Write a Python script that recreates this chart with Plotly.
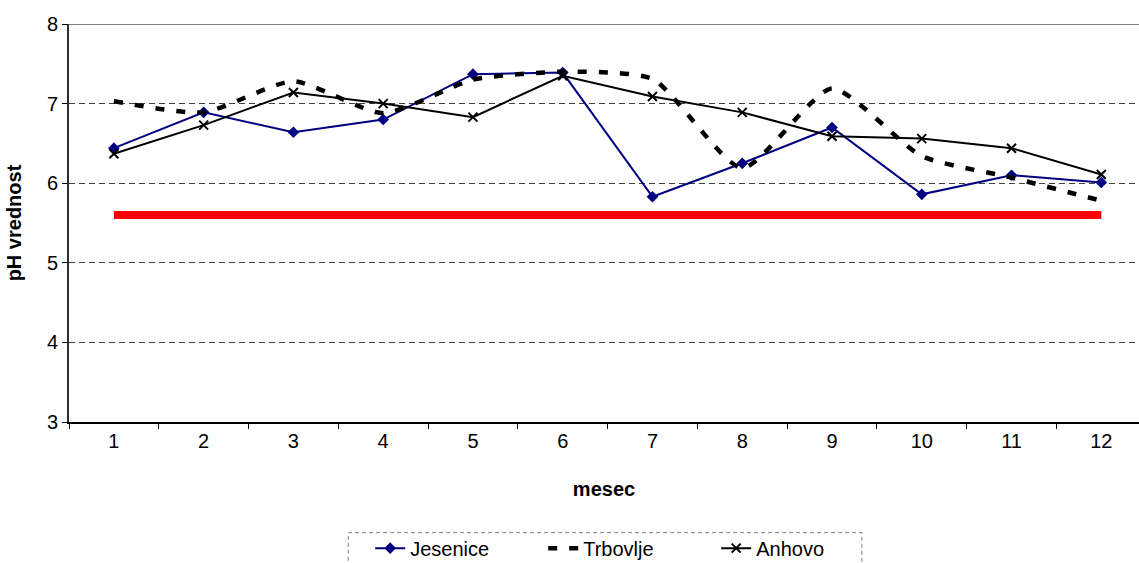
import plotly.graph_objects as go

months = ["1", "2", "3", "4", "5", "6", "7", "8", "9", "10", "11", "12"]
jesenice = [6.44, 6.89, 6.64, 6.80, 7.37, 7.39, 5.83, 6.25, 6.70, 5.86, 6.10, 6.01]
trbovlje = [7.03, 6.89, 7.28, 6.88, 7.30, 7.40, 7.31, 6.19, 7.19, 6.34, 6.07, 5.78]
anhovo = [6.37, 6.73, 7.14, 7.00, 6.83, 7.35, 7.09, 6.89, 6.59, 6.56, 6.44, 6.11]
limit = [5.6] * 12

y_ticks = [3, 4, 5, 6, 7, 8]

fig = go.Figure()
fig.add_trace(go.Scatter(x=months, y=limit, mode="lines", showlegend=False,
                         line=dict(color="#ff0000", width=8), hoverinfo="skip"))
fig.add_trace(go.Scatter(x=months, y=jesenice, name="Jesenice", mode="lines+markers",
                         line=dict(color="#000080", width=2),
                         marker=dict(symbol="diamond", size=9, color="#000080")))
fig.add_trace(go.Scatter(x=months, y=trbovlje, name="Trbovlje", mode="lines",
                         line=dict(color="#000000", width=4.5, dash="9px,12px",
                                   shape="spline", smoothing=0.6)))
fig.add_trace(go.Scatter(x=months, y=anhovo, name="Anhovo", mode="lines+markers",
                         line=dict(color="#000000", width=2),
                         marker=dict(symbol="x-thin", size=9,
                                     line=dict(color="#000000", width=2))))

# top border of the plot area
fig.add_shape(type="line", xref="paper", yref="y", x0=0, x1=1, y0=8, y1=8,
              line=dict(color="#808080", width=2))
# dashed legend frame
fig.add_shape(type="rect", xref="paper", yref="paper", x0=0.261, x1=0.741,
              y0=-0.38, y1=-0.278, line=dict(color="#808080", width=1, dash="4px,3px"))

font = "Liberation Sans, Arial, sans-serif"
fig.update_layout(
    width=1139, height=563,
    margin=dict(l=69, r=0, t=24, b=141, autoexpand=False),
    paper_bgcolor="white", plot_bgcolor="white",
    font=dict(family=font, size=20, color="black"),
    legend=dict(orientation="h", x=0.524, xanchor="center", y=-0.317, yanchor="middle",
                font=dict(size=20), tracegroupgap=0, bgcolor="rgba(0,0,0,0)",
                entrywidth=128, entrywidthmode="pixels"),
)
fig.update_xaxes(type="category", range=[-0.5, 11.42], tickson="boundaries",
                 ticks="outside", ticklen=5, tickcolor="black", automargin=False,
                 showline=True, linecolor="black", linewidth=2, showgrid=False,
                 title=dict(text="<b>mesec</b>", font=dict(size=20), standoff=31),
                 tickfont=dict(size=20))
fig.update_yaxes(range=[3, 8], tickvals=y_ticks, ticks="outside", ticklen=5,
                 tickcolor="black", showline=True, linecolor="#303030", linewidth=2,
                 showgrid=True, gridcolor="#404040", griddash="6px,4px", gridwidth=1,
                 zeroline=False, automargin=False,
                 title=dict(text="<b>pH vrednost</b>", font=dict(size=20), standoff=20),
                 tickfont=dict(size=20))

fig.write_html("out.html", config={"displayModeBar": False},
               post_script="document.body.style.margin='0';document.body.style.overflow='hidden';")
